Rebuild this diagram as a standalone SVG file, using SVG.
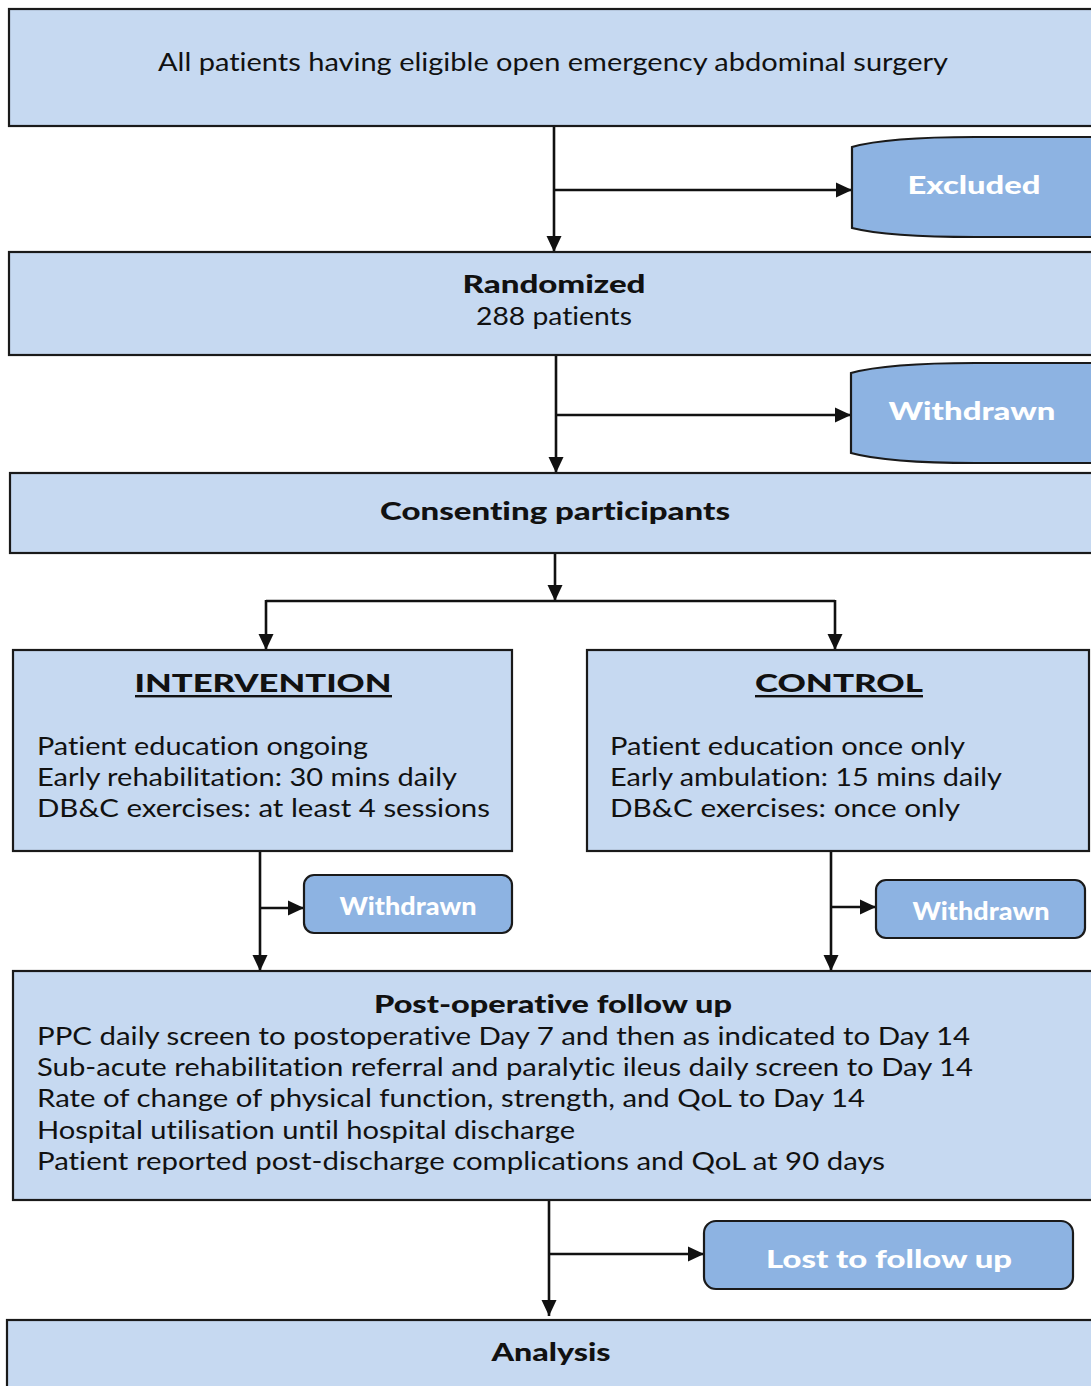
<svg xmlns="http://www.w3.org/2000/svg" width="1091" height="1386" viewBox="0 0 1091 1386">
<defs>
<style>
.box{fill:#C6D9F1;stroke:#1a1a1a;stroke-width:2.2}
.dark{fill:#8DB3E2;stroke:#1a1a1a;stroke-width:2.2}
.t{font-family:Lato,"Open Sans","DejaVu Sans",sans-serif;fill:#111;font-size:25px;font-variant-ligatures:none;font-feature-settings:"liga" 0,"dlig" 0}
.b{font-weight:900}
.w{fill:#fff;font-weight:900}
.c{text-anchor:middle}
.ln{fill:none;stroke:#111;stroke-width:2.6}
.ar{fill:none;stroke:#111;stroke-width:2.6;marker-end:url(#ah)}
</style>
<marker id="ah" markerUnits="userSpaceOnUse" markerWidth="16" markerHeight="16" viewBox="0 0 16 16" refX="16" refY="8" orient="auto">
<path d="M0,0.5 L16,8 L0,15.5 z" fill="#111"/>
</marker>
</defs>
<rect width="1091" height="1386" fill="#fff"/>
<g id="connectors">
<path class="ar" d="M554,126 L554,252"/>
<path class="ar" d="M554,190 L852,190"/>
<path class="ar" d="M556,355 L556,473"/>
<path class="ar" d="M556,415 L851,415"/>
<path class="ar" d="M555,553 L555,601"/>
<path class="ln" d="M266,601 L835,601"/>
<path class="ar" d="M266,600 L266,650"/>
<path class="ar" d="M835,600 L835,650"/>
<path class="ar" d="M260,851 L260,971"/>
<path class="ar" d="M260,908 L304,908"/>
<path class="ar" d="M831,851 L831,971"/>
<path class="ar" d="M831,907 L876,907"/>
<path class="ar" d="M549,1200 L549,1316"/>
<path class="ar" d="M549,1254 L704,1254"/>
</g>
<g id="all-patients">
<rect class="box" x="9" y="9" width="1095" height="117"/>
<text class="t c" x="553" y="71" textLength="790" lengthAdjust="spacingAndGlyphs">All patients having eligible open emergency abdominal surgery</text>
</g>
<g id="excluded">
<path class="dark" d="M852,147 C880,139 930,137 975,137 L1100,137 L1100,237 L975,237 C930,237 880,235 852,228 Z"/>
<text class="t w c" x="974" y="194" font-size="27" textLength="133" lengthAdjust="spacingAndGlyphs">Excluded</text>
</g>
<g id="randomized">
<rect class="box" x="9" y="252" width="1095" height="103"/>
<text class="t b c" x="554" y="293" font-size="26" textLength="183" lengthAdjust="spacingAndGlyphs">Randomized</text>
<text class="t c" x="554" y="325" textLength="156" lengthAdjust="spacingAndGlyphs">288 patients</text>
</g>
<g id="withdrawn-1">
<path class="dark" d="M851,373 C880,365 930,363 975,363 L1100,363 L1100,463 L975,463 C930,463 880,461 851,453 Z"/>
<text class="t w c" x="972" y="420" font-size="27" textLength="167" lengthAdjust="spacingAndGlyphs">Withdrawn</text>
</g>
<g id="consenting">
<rect class="box" x="10" y="473" width="1095" height="80"/>
<text class="t b c" x="555" y="520" font-size="26" textLength="350" lengthAdjust="spacingAndGlyphs">Consenting participants</text>
</g>
<g id="intervention">
<rect class="box" x="13" y="650" width="499" height="201"/>
<text class="t b c" x="263" y="692" font-size="26" textLength="257" lengthAdjust="spacingAndGlyphs">INTERVENTION</text>
<rect x="135" y="695" width="257" height="2.4" fill="#111"/>
<text class="t" x="37" y="755" textLength="331" lengthAdjust="spacingAndGlyphs">Patient education ongoing</text>
<text class="t" x="37" y="786" textLength="420" lengthAdjust="spacingAndGlyphs">Early rehabilitation: 30 mins daily</text>
<text class="t" x="37" y="817" textLength="453" lengthAdjust="spacingAndGlyphs">DB&amp;C exercises: at least 4 sessions</text>
</g>
<g id="control">
<rect class="box" x="587" y="650" width="502" height="201"/>
<text class="t b c" x="839" y="692" font-size="26" textLength="168" lengthAdjust="spacingAndGlyphs">CONTROL</text>
<rect x="755" y="695" width="168" height="2.4" fill="#111"/>
<text class="t" x="610" y="755" textLength="355" lengthAdjust="spacingAndGlyphs">Patient education once only</text>
<text class="t" x="610" y="786" textLength="392" lengthAdjust="spacingAndGlyphs">Early ambulation: 15 mins daily</text>
<text class="t" x="610" y="817" textLength="350" lengthAdjust="spacingAndGlyphs">DB&amp;C exercises: once only</text>
</g>
<g id="withdrawn-2">
<rect class="dark" x="304" y="875" width="208" height="58" rx="10"/>
<text class="t w c" x="408" y="915" font-size="22" textLength="137" lengthAdjust="spacingAndGlyphs">Withdrawn</text>
</g>
<g id="withdrawn-3">
<rect class="dark" x="876" y="880" width="209" height="58" rx="10"/>
<text class="t w c" x="981" y="920" font-size="22" textLength="137" lengthAdjust="spacingAndGlyphs">Withdrawn</text>
</g>
<g id="follow-up">
<rect class="box" x="13" y="971" width="1090" height="229"/>
<text class="t b c" x="553" y="1013" font-size="26" textLength="358" lengthAdjust="spacingAndGlyphs">Post-operative follow up</text>
<text class="t" x="37" y="1045" textLength="933" lengthAdjust="spacingAndGlyphs">PPC daily screen to postoperative Day 7 and then as indicated to Day 14</text>
<text class="t" x="37" y="1076" textLength="936" lengthAdjust="spacingAndGlyphs">Sub-acute rehabilitation referral and paralytic ileus daily screen to Day 14</text>
<text class="t" x="37" y="1107" textLength="828" lengthAdjust="spacingAndGlyphs">Rate of change of physical function, strength, and QoL to Day 14</text>
<text class="t" x="37" y="1139" textLength="538" lengthAdjust="spacingAndGlyphs">Hospital utilisation until hospital discharge</text>
<text class="t" x="37" y="1170" textLength="848" lengthAdjust="spacingAndGlyphs">Patient reported post-discharge complications and QoL at 90 days</text>
</g>
<g id="lost">
<rect class="dark" x="704" y="1221" width="369" height="68" rx="12"/>
<text class="t w c" x="889" y="1268" font-size="27" textLength="246" lengthAdjust="spacingAndGlyphs">Lost to follow up</text>
</g>
<g id="analysis">
<rect class="box" x="7" y="1320" width="1100" height="80"/>
<text class="t b c" x="551" y="1361" font-size="26" textLength="119" lengthAdjust="spacingAndGlyphs">Analysis</text>
</g>
</svg>
